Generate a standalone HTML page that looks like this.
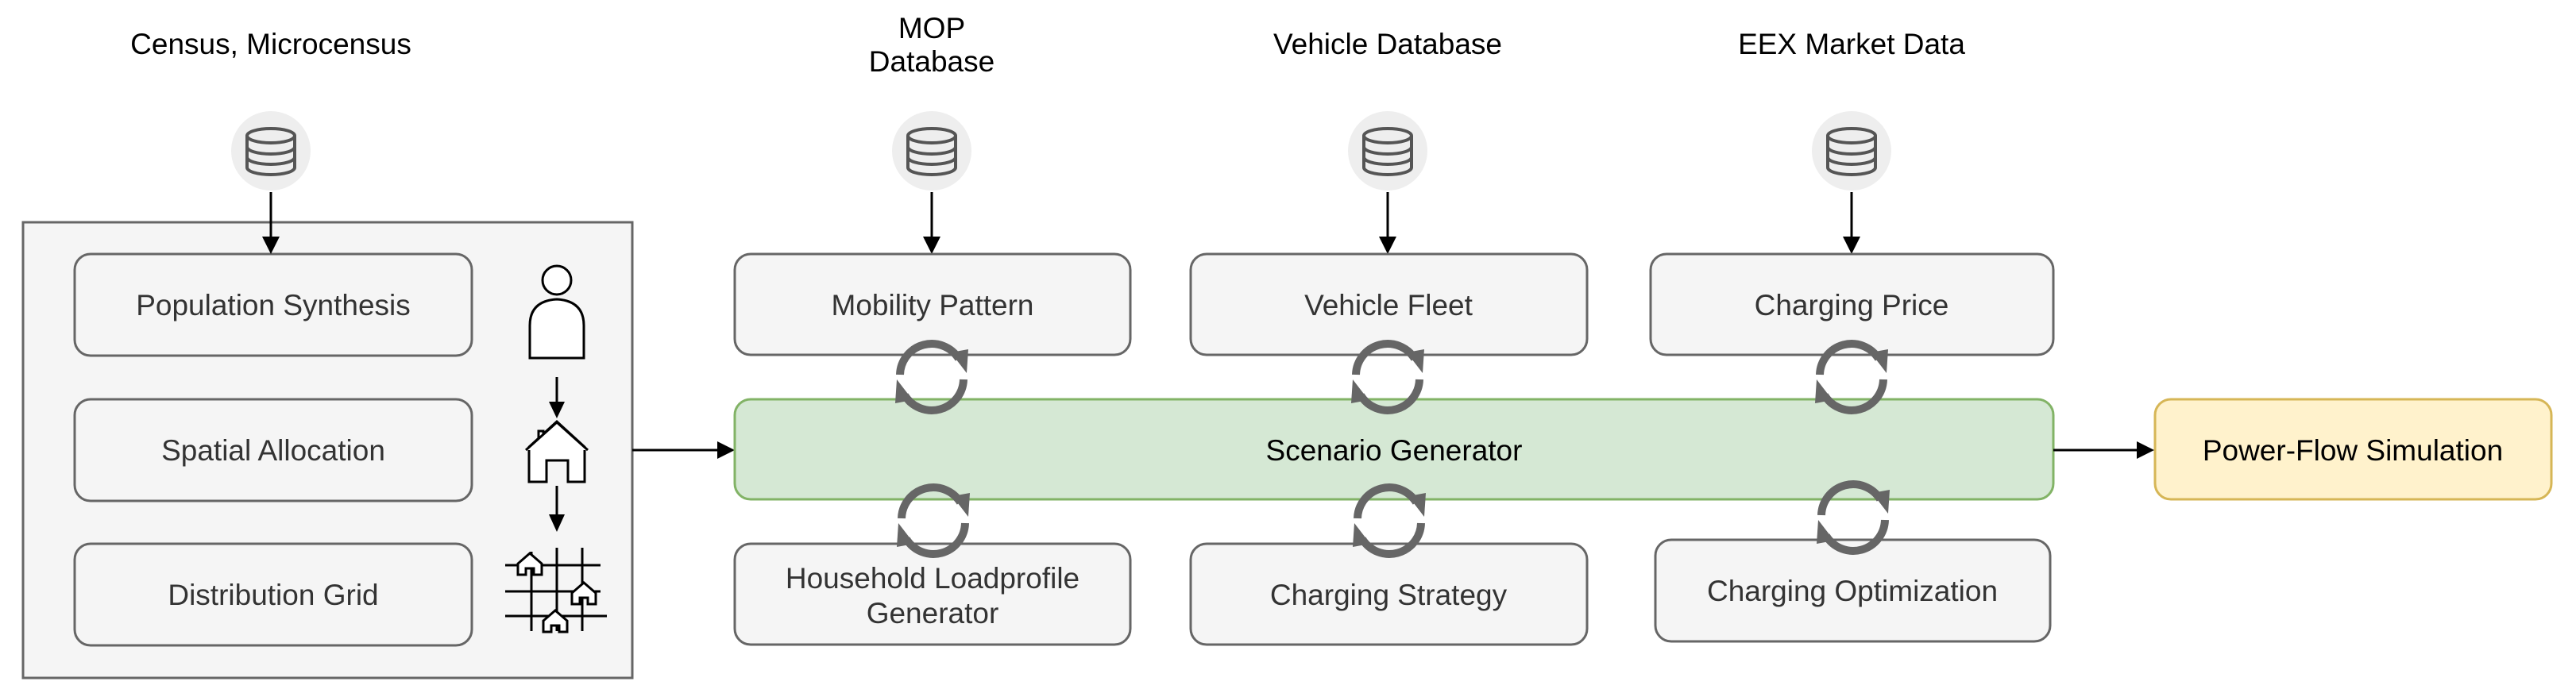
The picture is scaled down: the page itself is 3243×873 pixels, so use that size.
<!DOCTYPE html>
<html><head><meta charset="utf-8"><style>
html,body{margin:0;padding:0;background:#fff;}
svg{display:block;}
text{font-family:"Liberation Sans",Arial,sans-serif;}
</style></head><body>
<svg width="3243" height="873" viewBox="0 0 3243 873" xmlns="http://www.w3.org/2000/svg">
<defs>
<g id="db">
<circle cx="0" cy="0" r="50" fill="#eeeeee"/>
<g fill="none" stroke="#555" stroke-width="4">
<ellipse cx="0" cy="-19" rx="30" ry="9"/>
<path d="M-30,-19 V21 A30,9 0 0 0 30,21 V-19"/>
<path d="M-30,-5 A30,9 0 0 0 30,-5"/>
<path d="M-30,8 A30,9 0 0 0 30,8"/>
</g>
</g>
<g id="cyc">
<g fill="none" stroke="#666" stroke-width="10">
<path d="M-40,-2 A40,40 0 0 1 34,-22"/>
<path d="M40,4 A40,40 0 0 1 -34,24"/>
</g>
<polygon points="24,-30 46,-34 44,-4" fill="#666"/>
<polygon points="-24,30 -46,34 -44,4" fill="#666"/>
</g>
</defs>

<g font-size="37" fill="#000" text-anchor="middle">
<text x="341" y="68">Census, Microcensus</text>
<text x="1173" y="48">MOP</text>
<text x="1173" y="90">Database</text>
<text x="1747" y="68">Vehicle Database</text>
<text x="2331" y="68">EEX Market Data</text>
</g>

<use href="#db" x="341" y="190"/>
<use href="#db" x="1173" y="190"/>
<use href="#db" x="1747" y="190"/>
<use href="#db" x="2331" y="190"/>

<!-- left container -->
<rect x="29" y="280" width="767" height="574" fill="#f5f5f5" stroke="#666" stroke-width="3"/>
<g fill="#f5f5f5" stroke="#666" stroke-width="3">
<rect x="94" y="320" width="500" height="128" rx="20"/>
<rect x="94" y="503" width="500" height="128" rx="20"/>
<rect x="94" y="685" width="500" height="128" rx="20"/>
</g>

<!-- db arrows -->
<line x1="341" y1="242" x2="341" y2="300" stroke="#000" stroke-width="3"/><polygon points="330,298 352,298 341,320" fill="#000"/>
<line x1="1173" y1="242" x2="1173" y2="300" stroke="#000" stroke-width="3"/><polygon points="1162,298 1184,298 1173,320" fill="#000"/>
<line x1="1747" y1="242" x2="1747" y2="300" stroke="#000" stroke-width="3"/><polygon points="1736,298 1758,298 1747,320" fill="#000"/>
<line x1="2331" y1="242" x2="2331" y2="300" stroke="#000" stroke-width="3"/><polygon points="2320,298 2342,298 2331,320" fill="#000"/>

<g font-size="37" fill="#333" text-anchor="middle">
<text x="344" y="397">Population Synthesis</text>
<text x="344" y="580">Spatial Allocation</text>
<text x="344" y="762">Distribution Grid</text>
</g>

<!-- person -->
<g fill="#fff" stroke="#000" stroke-width="3">
<circle cx="701" cy="353" r="18"/>
<path d="M667,451 V410 Q667,379 701,377 Q735,379 735,410 V451 Z"/>
</g>
<line x1="701" y1="475" x2="701" y2="510" stroke="#000" stroke-width="3"/><polygon points="691,506 711,506 701,527" fill="#000"/>
<!-- house -->
<g fill="#fff" stroke="#000" stroke-width="3">
<path d="M666,607 V563 L701,531 L736,563 V607 H715 V580 H688 V607 Z"/>
<path d="M678,552 V543 H684 V547"/>
<path d="M662,567 L701,532 L740,567"/>
</g>
<line x1="701" y1="612" x2="701" y2="652" stroke="#000" stroke-width="3"/><polygon points="691,648 711,648 701,670" fill="#000"/>
<!-- grid -->
<g stroke="#000" stroke-width="3" fill="none">
<line x1="636" y1="712" x2="756" y2="712"/>
<line x1="636" y1="745" x2="756" y2="745"/>
<line x1="636" y1="776" x2="764" y2="776"/>
<line x1="669" y1="695" x2="669" y2="795"/>
<line x1="701" y1="690" x2="701" y2="795"/>
<line x1="733" y1="690" x2="733" y2="795"/>
</g>
<g fill="#fff" stroke="#000" stroke-width="3">
<path d="M652,724 V710 L667,697 L682,710 V724 H672 V716 H662 V724 Z"/>
<path d="M720,761 V747 L735,734 L750,747 V761 H740 V753 H730 V761 Z"/>
<path d="M684,796 V782 L699,769 L714,782 V796 H704 V788 H694 V796 Z"/>
</g>

<line x1="796" y1="567" x2="905" y2="567" stroke="#000" stroke-width="3"/><polygon points="903,556 903,578 925,567" fill="#000"/>

<g fill="#f5f5f5" stroke="#666" stroke-width="3">
<rect x="925" y="320" width="498" height="127" rx="20"/>
<rect x="1499" y="320" width="499" height="127" rx="20"/>
<rect x="2078" y="320" width="507" height="127" rx="20"/>
<rect x="925" y="685" width="498" height="127" rx="20"/>
<rect x="1499" y="685" width="499" height="127" rx="20"/>
<rect x="2084" y="680" width="497" height="128" rx="20"/>
</g>
<rect x="925" y="503" width="1660" height="126" rx="20" fill="#d5e8d4" stroke="#82b366" stroke-width="3"/>
<rect x="2713" y="503" width="499" height="126" rx="20" fill="#fff2cc" stroke="#d6b656" stroke-width="3"/>
<line x1="2585" y1="567" x2="2692" y2="567" stroke="#000" stroke-width="3"/><polygon points="2690,556 2690,578 2712,567" fill="#000"/>

<g font-size="37" fill="#333" text-anchor="middle">
<text x="1174" y="397">Mobility Pattern</text>
<text x="1748" y="397">Vehicle Fleet</text>
<text x="2331" y="397">Charging Price</text>
<text x="1174" y="741">Household Loadprofile</text>
<text x="1174" y="785">Generator</text>
<text x="1748" y="762">Charging Strategy</text>
<text x="2332" y="757">Charging Optimization</text>
</g>
<g font-size="37" fill="#000" text-anchor="middle">
<text x="1755" y="580">Scenario Generator</text>
<text x="2962" y="580">Power-Flow Simulation</text>
</g>

<use href="#cyc" x="1173" y="474"/>
<use href="#cyc" x="1747" y="474"/>
<use href="#cyc" x="2331" y="474"/>
<use href="#cyc" x="1175" y="655"/>
<use href="#cyc" x="1749" y="655"/>
<use href="#cyc" x="2333" y="651"/>
</svg>
</body></html>
